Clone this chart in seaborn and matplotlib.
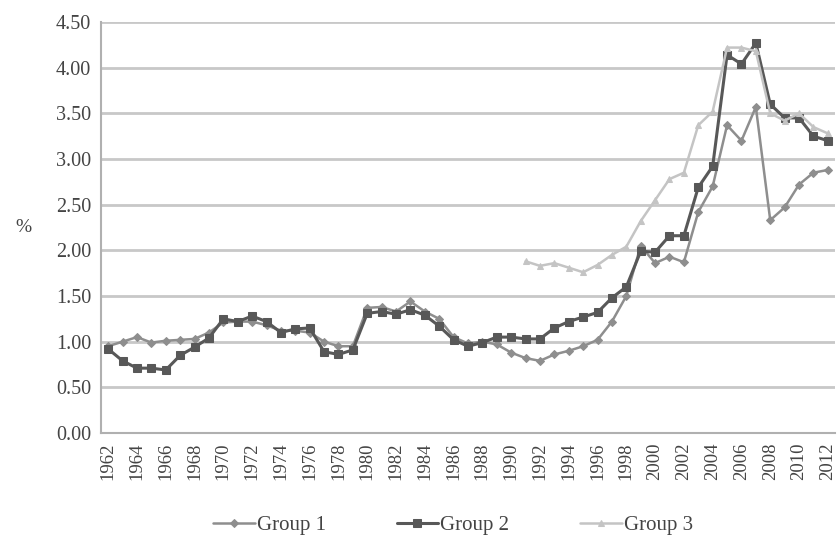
import matplotlib
matplotlib.use("Agg")
import matplotlib.pyplot as plt
import seaborn as sns
import numpy as np
import pandas as pd

years = list(range(1962, 2013))

group1 = [0.95, 1.00, 1.05, 0.99, 1.01, 1.02, 1.03, 1.10, 1.21, 1.22,
          1.22, 1.18, 1.12, 1.12, 1.10, 1.00, 0.95, 0.95, 1.37, 1.38,
          1.33, 1.44, 1.33, 1.25, 1.05, 0.98, 1.00, 0.97, 0.88, 0.82,
          0.79, 0.86, 0.90, 0.95, 1.02, 1.22, 1.50, 2.05, 1.86, 1.93,
          1.87, 2.42, 2.70, 3.37, 3.20, 3.57, 2.33, 2.47, 2.72, 2.85,
          2.88]

group2 = [0.92, 0.79, 0.71, 0.71, 0.69, 0.85, 0.94, 1.04, 1.25, 1.22,
          1.28, 1.22, 1.10, 1.14, 1.15, 0.89, 0.86, 0.91, 1.31, 1.33,
          1.30, 1.35, 1.29, 1.17, 1.02, 0.95, 0.99, 1.05, 1.05, 1.03,
          1.03, 1.15, 1.22, 1.27, 1.32, 1.48, 1.60, 1.99, 1.98, 2.16,
          2.16, 2.69, 2.92, 4.14, 4.04, 4.27, 3.60, 3.45, 3.45, 3.25,
          3.20]

group3 = [np.nan] * 29 + [
          1.88, 1.83, 1.86, 1.81, 1.76, 1.84, 1.95, 2.04, 2.32, 2.55,
          2.78, 2.85, 3.37, 3.52, 4.22, 4.22, 4.18, 3.50, 3.42, 3.50,
          3.35, 3.28]

df = pd.DataFrame({"year": years, "Group 1": group1,
                   "Group 2": group2, "Group 3": group3})
long = df.melt(id_vars="year", var_name="group", value_name="pct").dropna()

sns.set_style("white")
plt.rcParams["font.family"] = ["Liberation Serif", "DejaVu Serif"]

fig = plt.figure(figsize=(8.39, 5.51), dpi=100)
ax = fig.add_axes([101 / 839, 1 - 433 / 551, 734 / 839, 411 / 551])

palette = {"Group 1": "#8e8e8e", "Group 2": "#585858", "Group 3": "#c4c4c4"}
markers = {"Group 1": "D", "Group 2": "s", "Group 3": "^"}
widths = {"Group 1": 1.8, "Group 2": 2.2, "Group 3": 1.8}
msize = {"Group 1": 4.5, "Group 2": 6, "Group 3": 5}

for g in ["Group 1", "Group 2", "Group 3"]:
    sub = long[long["group"] == g]
    sns.lineplot(data=sub, x="year", y="pct", color=palette[g],
                 marker=markers[g], markersize=msize[g],
                 markeredgecolor=palette[g], linewidth=widths[g],
                 ax=ax, label=g, legend=False)

ax.set_xlim(1961.5, 2012.5)
ax.set_ylim(0, 4.5)
yt = np.arange(0, 4.51, 0.5)
ax.set_yticks(yt)
ax.set_yticklabels([f"{v:.2f}" for v in yt], fontsize=14.5, color="#444444")
ax.set_xticks(years[::2])
ax.set_xticklabels([str(y) for y in years[::2]], rotation=90,
                   fontsize=13.5, color="#444444")
ax.grid(axis="y", color="#c8c8c8", linewidth=2)
ax.set_axisbelow(True)
for s in ["top", "right"]:
    ax.spines[s].set_visible(False)
for s in ["left", "bottom"]:
    ax.spines[s].set_color("#b0b0b0")
    ax.spines[s].set_linewidth(1.5)
ax.tick_params(axis="both", length=0, pad=7)
ax.set_xlabel("")
ax.set_ylabel("%", rotation=0, fontsize=14, color="#444444", labelpad=22)
ax.yaxis.set_label_coords(-0.105, 0.48)

handles, labels = ax.get_legend_handles_labels()
fig.legend(handles, labels,
           loc="lower center", bbox_to_anchor=(0.54, -0.005), ncol=3,
           frameon=False, fontsize=15, handlelength=2.0, handletextpad=0.1,
           columnspacing=3.4, labelcolor="#444444")

fig.savefig("out.png", dpi=100)
